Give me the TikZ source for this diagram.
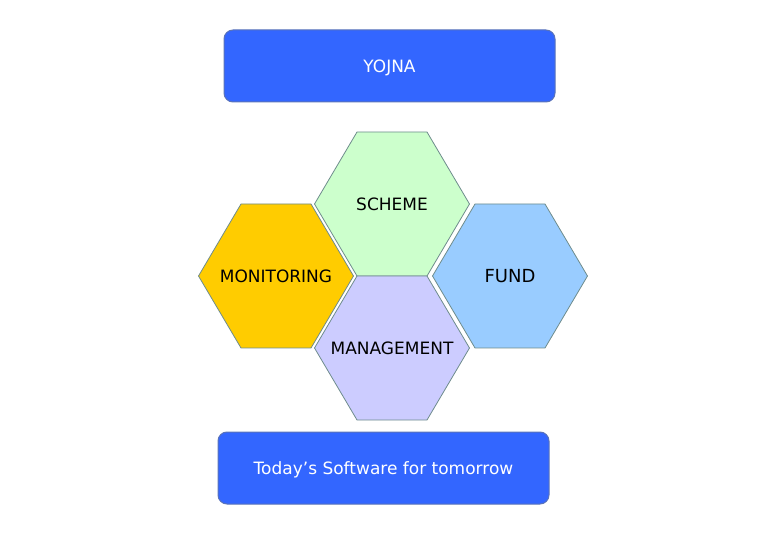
\documentclass[tikz,border=0pt]{standalone}
\usepackage{fontspec}
\setmainfont{DejaVu Sans}
\definecolor{bannerblue}{RGB}{51,102,255}
\definecolor{bannerline}{RGB}{90,115,185}
\definecolor{hexline}{RGB}{110,140,140}
\definecolor{schemegreen}{RGB}{204,255,204}
\definecolor{monitorgold}{RGB}{255,204,0}
\definecolor{fundblue}{RGB}{153,204,255}
\definecolor{managelilac}{RGB}{204,204,255}
\tikzstyle{banner} = [rectangle,
	rounded corners=9pt,
	minimum width=331pt,
	minimum height=72pt,
	text centered,
	text depth=0pt,
	draw=bannerline,
	line width=1pt,
	fill=bannerblue,
	text=white,
	font=\fontsize{17}{20}\selectfont
	]
\tikzstyle{cell} = [draw=hexline,
	line width=0.8pt
	]
\tikzstyle{celltext} = [text centered,
	text=black,
	font=\fontsize{17}{20}\selectfont
	]
% hexagon cell: name, x, y, fill, label
\newcommand{\hexcell}[5]{%
	\draw [cell, fill=#4] (#2-77.5,#3) -- ++(42.5,-72) -- ++(70,0) -- ++(42.5,72)
		-- ++(-42.5,72) -- ++(-70,0) -- cycle;
	\node (#1) [celltext] at (#2,#3) {#5};
}

\begin{document}
\begin{tikzpicture}[x=1pt, y=-1pt]
\useasboundingbox (0,0) rectangle (780,540);

\node (yojna) [banner] at (389.5,66) {YOJNA};

\hexcell{scheme}{392}{204}{schemegreen}{SCHEME}
\hexcell{monitoring}{276}{276}{monitorgold}{MONITORING}
\hexcell{fund}{510}{276}{fundblue}{\fontsize{18}{21}\selectfont FUND}
\hexcell{management}{392}{348}{managelilac}{MANAGEMENT}

\node (slogan) [banner] at (383.5,468) {Today’s Software for tomorrow};

\end{tikzpicture}
\end{document}
